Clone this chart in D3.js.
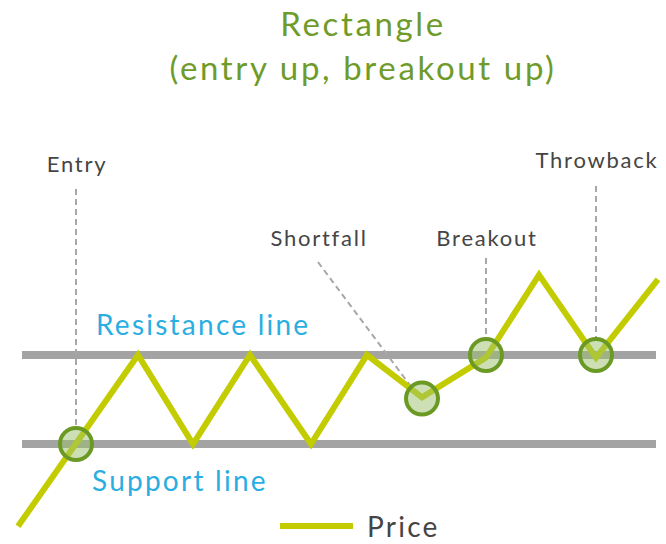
<!DOCTYPE html>
<html>
<head>
<meta charset="utf-8">
<script src="https://cdn.jsdelivr.net/npm/d3@7"></script>
<style>
  body { margin: 0; background: #fff; }
  text { font-family: Lato, "Open Sans", sans-serif; letter-spacing: 0.08em; }
</style>
</head>
<body>
<div id="chart"></div>
<script>
// title lines
var titleLines = ["Rectangle", "(entry up, breakout up)"];

// price path: day index and price
var priceDays = [0, 12, 17.5, 23.2, 29.3, 34.9, 40.4, 46.8, 52.1, 57.8, 64];
var priceVals = [21.5, 60, 40, 60, 40, 60, 50.5, 59.4, 78, 59.4, 77];

// rectangle bounds
var supportLevel = 40;
var resistanceLevel = 60;
var boundDays = [0.4, 63.8];
var boundLabels = ["Support line", "Resistance line"];

// events marked with circles
var eventNames = ["Entry", "Shortfall", "Breakout", "Throwback"];
var eventDays = [5.8, 40.4, 46.8, 57.8];
var eventVals = [40, 50.2, 60, 60];

var legendLabel = "Price";

var width = 666, height = 544;

var svg = d3.select("#chart").append("svg")
    .attr("width", width)
    .attr("height", height);

var x = d3.scaleLinear().domain([0, 64]).range([18, 658]);
var y = d3.scaleLinear().domain([40, 60]).range([444, 355]);

//title
svg.selectAll(".title")
    .data(titleLines)
    .enter()
    .append("text")
    .attr("class", "title")
    .attr("x", 363)
    .attr("y", function(d, i) { return 36 + i * 44; })
    .attr("text-anchor", "middle")
    .style("font-size", "33px")
    .style("fill", "#6f9b2b")
    .text(function(d) { return d; });

//support + resistance
var levels = [supportLevel, resistanceLevel];
svg.selectAll(".bound")
    .data(levels)
    .enter()
    .append("line")
    .attr("class", "bound")
    .attr("x1", x(boundDays[0]))
    .attr("x2", x(boundDays[1]))
    .attr("y1", function(d) { return y(d); })
    .attr("y2", function(d) { return y(d); })
    .style("stroke", "#a3a3a3")
    .style("stroke-width", 8);

svg.selectAll(".boundLbl")
    .data(levels)
    .enter()
    .append("text")
    .attr("class", "boundLbl")
    .attr("x", function(d, i) { return i == 0 ? 92 : 96; })
    .attr("y", function(d, i) { return i == 0 ? y(d) + 47 : y(d) - 20; })
    .style("font-size", "28px")
    .style("fill", "#2aaee2")
    .text(function(d, i) { return boundLabels[i]; });

//leader lines for the events
var pts = eventNames.map(function(n, i) {
    return { name: n, cx: x(eventDays[i]), cy: y(eventVals[i]) };
});
var r = 16;
var leaders = [
    { x1: pts[0].cx, y1: 189, x2: pts[0].cx, y2: pts[0].cy - r, lx: pts[0].cx, ly: 172 },
    { x1: 318, y1: 262, x2: pts[1].cx - 11, y2: pts[1].cy - 12, lx: 318, ly: 246 },
    { x1: pts[2].cx, y1: 258, x2: pts[2].cx, y2: pts[2].cy - r, lx: pts[2].cx, ly: 246 },
    { x1: pts[3].cx, y1: 186, x2: pts[3].cx, y2: pts[3].cy - r, lx: pts[3].cx, ly: 168 }
];

svg.selectAll(".leader")
    .data(leaders)
    .enter()
    .append("line")
    .attr("class", "leader")
    .attr("x1", function(d) { return d.x1; })
    .attr("y1", function(d) { return d.y1; })
    .attr("x2", function(d) { return d.x2; })
    .attr("y2", function(d) { return d.y2; })
    .style("stroke", "#a8a8a8")
    .style("stroke-width", 2)
    .style("stroke-dasharray", "6,4");

svg.selectAll(".evLbl")
    .data(pts)
    .enter()
    .append("text")
    .attr("class", "evLbl")
    .attr("x", function(d, i) { return leaders[i].lx + 1; })
    .attr("y", function(d, i) { return leaders[i].ly; })
    .attr("text-anchor", "middle")
    .style("font-size", "22px")
    .style("fill", "#454545")
    .text(function(d) { return d.name; });

//price line
var line = d3.line()
    .x(function(d) { return x(d[0]); })
    .y(function(d) { return y(d[1]); });

svg.append("path")
    .datum(d3.zip(priceDays, priceVals))
    .attr("d", line)
    .style("fill", "none")
    .style("stroke", "#c3cc00")
    .style("stroke-width", 6)
    .style("stroke-linejoin", "miter");

//event circles
svg.selectAll(".ev")
    .data(pts)
    .enter()
    .append("circle")
    .attr("class", "ev")
    .attr("cx", function(d) { return d.cx; })
    .attr("cy", function(d) { return d.cy; })
    .attr("r", r)
    .style("fill", "#9cc06a")
    .style("fill-opacity", 0.5)
    .style("stroke", "#6a9a24")
    .style("stroke-width", 4);

//legend
svg.append("line")
    .attr("x1", 280).attr("x2", 353)
    .attr("y1", 526).attr("y2", 526)
    .style("stroke", "#c3cc00")
    .style("stroke-width", 6);

svg.append("text")
    .attr("x", 367)
    .attr("y", 537)
    .style("font-size", "28px")
    .style("fill", "#454545")
    .text(legendLabel);
</script>
</body>
</html>
